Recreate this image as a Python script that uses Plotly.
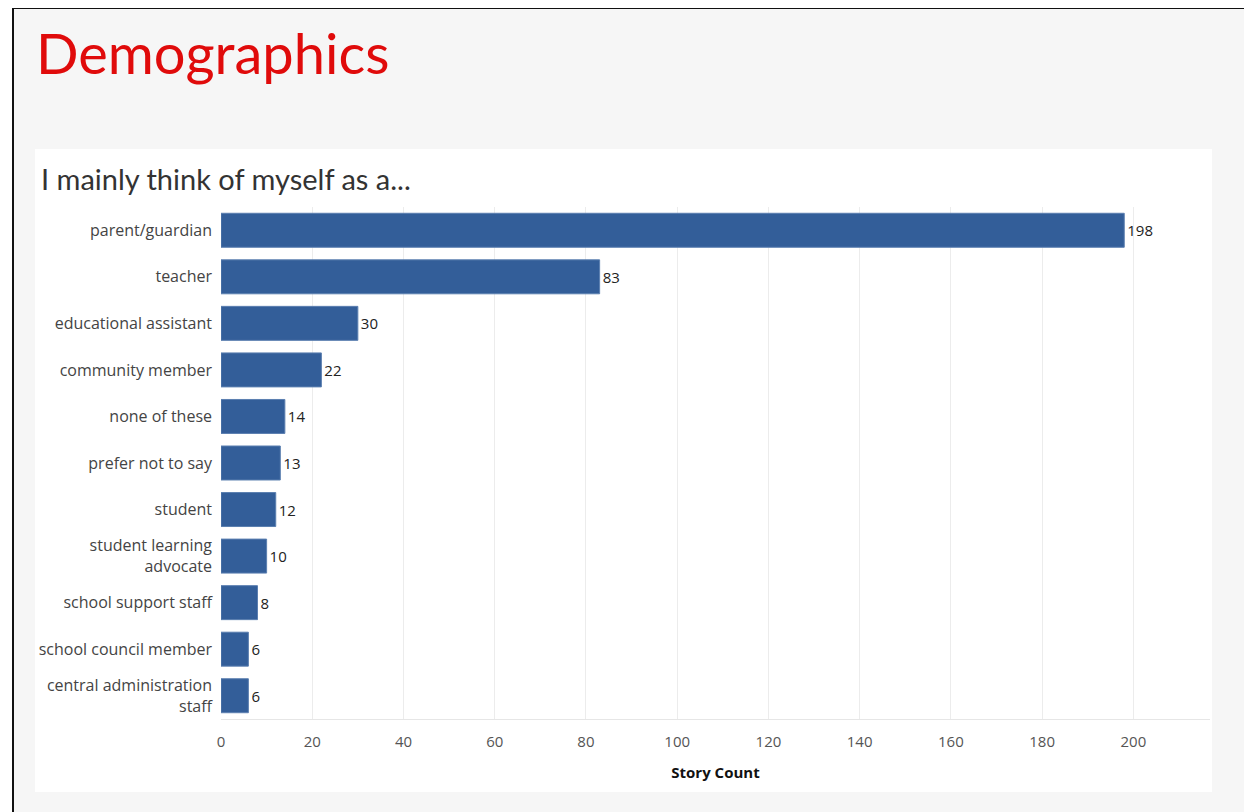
import plotly.graph_objects as go

categories = ["parent/guardian", "teacher", "educational assistant", "community member",
              "none of these", "prefer not to say", "student", "student learning<br>advocate",
              "school support staff", "school council member", "central administration<br>staff"]
counts = [198, 83, 30, 22, 14, 13, 12, 10, 8, 6, 6]
x_ticks = [0, 20, 40, 60, 80, 100, 120, 140, 160, 180, 200]

FONT = "Open Sans, Lato, sans-serif"

fig = go.Figure()
fig.add_trace(go.Bar(
    y=categories, x=counts, orientation="h",
    marker=dict(color="#335e99", line=dict(color="#5b7fb0", width=1)),
    width=0.73,
    text=[str(c) for c in counts], textposition="outside",
    textfont=dict(family=FONT, size=15, color="#222"),
    cliponaxis=False,
))

# page has an 8px body margin; figure placed at (8, 8)
OFF = 8
W, H = 1252, 812 - OFF
L, T, B = 213, 199, 93
R = W - (1210 - OFF)
PW, PH = W - L - R, H - T - B


def px(x):
    return ((x - OFF) - L) / PW


def py(y):
    return (H - B - (y - OFF)) / PH


shapes = [
    # white panel
    dict(type="rect", xref="paper", yref="paper", x0=px(35), x1=px(1212), y0=py(792), y1=py(149),
         fillcolor="white", line=dict(width=0), layer="below"),
    # white strip left of frame
    dict(type="rect", xref="paper", yref="paper", x0=px(OFF), x1=px(13), y0=py(812), y1=py(OFF),
         fillcolor="white", line=dict(width=0), layer="below"),
    # black frame lines
    dict(type="line", xref="paper", yref="paper", x0=px(13), x1=px(1260), y0=py(8), y1=py(8),
         line=dict(color="#111", width=2)),
    dict(type="line", xref="paper", yref="paper", x0=px(13), x1=px(13), y0=py(812), y1=py(8),
         line=dict(color="#111", width=2)),
]

annotations = [
    dict(text="Demographics", xref="paper", yref="paper", x=px(34), y=py(52),
         xanchor="left", yanchor="middle", showarrow=False,
         font=dict(family="Lato, sans-serif", size=56, color="#e00b0b")),
    dict(text="I mainly think of myself as a...", xref="paper", yref="paper", x=px(39), y=py(178),
         xanchor="left", yanchor="middle", showarrow=False,
         font=dict(family="Lato, sans-serif", size=29, color="#333")),
]

fig.update_layout(
    width=W, height=H,
    margin=dict(l=L, r=R, t=T, b=B, pad=0),
    paper_bgcolor="#f6f6f6", plot_bgcolor="white",
    showlegend=False,
    shapes=shapes, annotations=annotations,
    font=dict(family=FONT, color="#555"),
    xaxis=dict(range=[0, 216.8], tickvals=x_ticks, showgrid=True, gridcolor="#ececec",
               gridwidth=1, zeroline=False, showline=True, linecolor="#e6e6e6",
               ticks="", ticklabelstandoff=9, tickfont=dict(size=15, color="#555"),
               title=dict(text="<b>Story Count</b>", font=dict(family=FONT, size=15, color="#111"),
                          standoff=17)),
    yaxis=dict(autorange=False, range=[10.5, -0.5], categoryorder="array", categoryarray=categories,
               showgrid=False, zeroline=False, ticks="", ticklabelstandoff=8,
               tickfont=dict(size=16, color="#444")),
)

fig.write_html("out.html")
